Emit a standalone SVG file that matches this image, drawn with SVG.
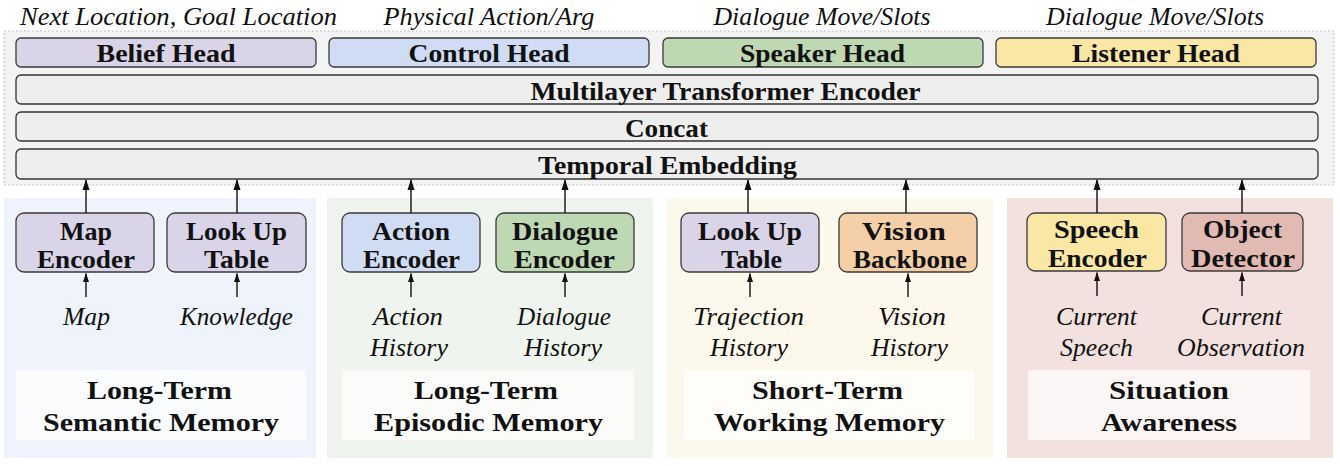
<svg xmlns="http://www.w3.org/2000/svg" width="1340" height="466" viewBox="0 0 1340 466">
  <style>
    .bold { font-family: "Liberation Serif", "Times New Roman", serif; font-weight: bold; font-size: 26px; fill: #111; text-anchor: middle; }
    .ital { font-family: "Liberation Serif", "Times New Roman", serif; font-style: italic; font-size: 25px; fill: #111; text-anchor: middle; }
    .node { stroke: #3a3a3a; stroke-width: 1.3; }
    .bar { fill: #eeeeee; stroke: #333; stroke-width: 1.3; }
    .purple { fill: #d9d4e8; }
    .blue { fill: #cfdcf3; }
    .green { fill: #bdd8b2; }
    .yellow { fill: #fae6a5; }
    .orange { fill: #f4cfa7; }
    .rose { fill: #e0bab3; }
    .titlebox { fill: #ffffff; fill-opacity: 0.72; }
    .conn { stroke: #111; stroke-width: 1.4; fill: none; }
  </style>
  <defs>
    <marker id="arrowBig" markerUnits="userSpaceOnUse" markerWidth="8" markerHeight="12" refX="4" refY="1" orient="0" viewBox="0 0 8 12">
      <path d="M4,0 L7.5,11 L0.5,11 Z" fill="#111"/>
    </marker>
    <marker id="arrowSmall" markerUnits="userSpaceOnUse" markerWidth="7" markerHeight="10" refX="3.5" refY="0.5" orient="0" viewBox="0 0 7 10">
      <path d="M3.5,0 L6.5,9 L0.5,9 Z" fill="#111"/>
    </marker>
  </defs>

  <rect width="1340" height="466" fill="#ffffff"/>

  <!-- memory panels -->
  <g id="panel-semantic">
    <rect x="4" y="198" width="312" height="260" fill="#eff3fb"/>
    <rect class="titlebox" x="16" y="370" width="290" height="70"/>
    <text class="bold" x="159.5" y="399" textLength="145" lengthAdjust="spacingAndGlyphs">Long-Term</text>
    <text class="bold" x="161" y="431" textLength="236" lengthAdjust="spacingAndGlyphs">Semantic Memory</text>
  </g>
  <g id="panel-episodic">
    <rect x="327" y="198" width="326" height="260" fill="#eff5ee"/>
    <rect class="titlebox" x="342" y="370" width="292" height="70"/>
    <text class="bold" x="486" y="399" textLength="144" lengthAdjust="spacingAndGlyphs">Long-Term</text>
    <text class="bold" x="488.5" y="431" textLength="229" lengthAdjust="spacingAndGlyphs">Episodic Memory</text>
  </g>
  <g id="panel-working">
    <rect x="667" y="198" width="326" height="260" fill="#fcf8ec"/>
    <rect class="titlebox" x="684" y="370" width="290" height="70"/>
    <text class="bold" x="827.5" y="399" textLength="151" lengthAdjust="spacingAndGlyphs">Short-Term</text>
    <text class="bold" x="829.5" y="431" textLength="231" lengthAdjust="spacingAndGlyphs">Working Memory</text>
  </g>
  <g id="panel-situation">
    <rect x="1007" y="198" width="326" height="260" fill="#f2e1de"/>
    <rect class="titlebox" x="1028" y="370" width="282" height="70"/>
    <text class="bold" x="1169" y="399" textLength="120" lengthAdjust="spacingAndGlyphs">Situation</text>
    <text class="bold" x="1169" y="431" textLength="136" lengthAdjust="spacingAndGlyphs">Awareness</text>
  </g>

  <!-- model stack -->
  <g id="model-stack">
    <rect x="4" y="31" width="1330" height="154" fill="#f3f3f3" stroke="#b5b5b5" stroke-width="1.2" stroke-dasharray="1.5 2.5"/>
  </g>

  <g id="belief-head">
    <text class="ital" x="178.5" y="25" textLength="317" lengthAdjust="spacingAndGlyphs">Next Location, Goal Location</text>
    <rect class="node purple" x="16" y="38" width="300" height="29" rx="5"/>
    <text class="bold" x="166" y="62" textLength="139" lengthAdjust="spacingAndGlyphs">Belief Head</text>
  </g>
  <g id="control-head">
    <text class="ital" x="489" y="25" textLength="211" lengthAdjust="spacingAndGlyphs">Physical Action/Arg</text>
    <rect class="node blue" x="329" y="38" width="320" height="29" rx="5"/>
    <text class="bold" x="489" y="62" textLength="161" lengthAdjust="spacingAndGlyphs">Control Head</text>
  </g>
  <g id="speaker-head">
    <text class="ital" x="822" y="25" textLength="217" lengthAdjust="spacingAndGlyphs">Dialogue Move/Slots</text>
    <rect class="node green" x="663" y="38" width="320" height="29" rx="5"/>
    <text class="bold" x="822.5" y="62" textLength="165" lengthAdjust="spacingAndGlyphs">Speaker Head</text>
  </g>
  <g id="listener-head">
    <text class="ital" x="1155" y="25" textLength="218" lengthAdjust="spacingAndGlyphs">Dialogue Move/Slots</text>
    <rect class="node yellow" x="996" y="38" width="320" height="29" rx="5"/>
    <text class="bold" x="1156" y="62" textLength="168" lengthAdjust="spacingAndGlyphs">Listener Head</text>
  </g>

  <g id="transformer-encoder">
    <rect class="bar" x="16" y="75" width="1302" height="29" rx="5"/>
    <text class="bold" x="725.5" y="99.5" textLength="390" lengthAdjust="spacingAndGlyphs">Multilayer Transformer Encoder</text>
  </g>
  <g id="concat">
    <rect class="bar" x="16" y="112" width="1302" height="29" rx="5"/>
    <text class="bold" x="666.5" y="137" textLength="83" lengthAdjust="spacingAndGlyphs">Concat</text>
  </g>
  <g id="temporal-embedding">
    <rect class="bar" x="16" y="149" width="1302" height="30" rx="5"/>
    <text class="bold" x="667.5" y="174" textLength="259" lengthAdjust="spacingAndGlyphs">Temporal Embedding</text>
  </g>

  <!-- encoders -->
  <g id="map-encoder">
    <rect class="node purple" x="16" y="213" width="138" height="59" rx="8"/>
    <text class="bold" x="86" y="240" textLength="52" lengthAdjust="spacingAndGlyphs">Map</text>
    <text class="bold" x="86" y="268" textLength="98" lengthAdjust="spacingAndGlyphs">Encoder</text>
  </g>
  <g id="lookup-table-knowledge">
    <rect class="node purple" x="167" y="213" width="139" height="59" rx="8"/>
    <text class="bold" x="236.5" y="240" textLength="101" lengthAdjust="spacingAndGlyphs">Look Up</text>
    <text class="bold" x="236.5" y="268" textLength="65" lengthAdjust="spacingAndGlyphs">Table</text>
  </g>
  <g id="action-encoder">
    <rect class="node blue" x="342" y="213" width="138" height="59" rx="8"/>
    <text class="bold" x="411" y="240" textLength="78" lengthAdjust="spacingAndGlyphs">Action</text>
    <text class="bold" x="411.5" y="268" textLength="97" lengthAdjust="spacingAndGlyphs">Encoder</text>
  </g>
  <g id="dialogue-encoder">
    <rect class="node green" x="496" y="213" width="138" height="59" rx="8"/>
    <text class="bold" x="565" y="240" textLength="106" lengthAdjust="spacingAndGlyphs">Dialogue</text>
    <text class="bold" x="564.5" y="268" textLength="101" lengthAdjust="spacingAndGlyphs">Encoder</text>
  </g>
  <g id="lookup-table-trajection">
    <rect class="node purple" x="681" y="213" width="138" height="59" rx="8"/>
    <text class="bold" x="750" y="240" textLength="104" lengthAdjust="spacingAndGlyphs">Look Up</text>
    <text class="bold" x="751.5" y="268" textLength="61" lengthAdjust="spacingAndGlyphs">Table</text>
  </g>
  <g id="vision-backbone">
    <rect class="node orange" x="839" y="213" width="138" height="59" rx="8"/>
    <text class="bold" x="904" y="240" textLength="84" lengthAdjust="spacingAndGlyphs">Vision</text>
    <text class="bold" x="910" y="268" textLength="114" lengthAdjust="spacingAndGlyphs">Backbone</text>
  </g>
  <g id="speech-encoder">
    <rect class="node yellow" x="1027" y="213" width="139" height="58" rx="8"/>
    <text class="bold" x="1096.5" y="238" textLength="85" lengthAdjust="spacingAndGlyphs">Speech</text>
    <text class="bold" x="1097.5" y="267" textLength="99" lengthAdjust="spacingAndGlyphs">Encoder</text>
  </g>
  <g id="object-detector">
    <rect class="node rose" x="1182" y="213" width="121" height="58" rx="8"/>
    <text class="bold" x="1242.5" y="238" textLength="79" lengthAdjust="spacingAndGlyphs">Object</text>
    <text class="bold" x="1243" y="267" textLength="104" lengthAdjust="spacingAndGlyphs">Detector</text>
  </g>

  <!-- inputs -->
  <g id="inputs">
    <text class="ital" x="86.5" y="325" textLength="47" lengthAdjust="spacingAndGlyphs">Map</text>
    <text class="ital" x="236.5" y="325" textLength="113" lengthAdjust="spacingAndGlyphs">Knowledge</text>
    <text class="ital" x="408" y="325" textLength="70" lengthAdjust="spacingAndGlyphs">Action</text>
    <text class="ital" x="409" y="356" textLength="78" lengthAdjust="spacingAndGlyphs">History</text>
    <text class="ital" x="564" y="325" textLength="94" lengthAdjust="spacingAndGlyphs">Dialogue</text>
    <text class="ital" x="563" y="356" textLength="78" lengthAdjust="spacingAndGlyphs">History</text>
    <text class="ital" x="748.5" y="325" textLength="111" lengthAdjust="spacingAndGlyphs">Trajection</text>
    <text class="ital" x="749" y="356" textLength="78" lengthAdjust="spacingAndGlyphs">History</text>
    <text class="ital" x="912" y="325" textLength="68" lengthAdjust="spacingAndGlyphs">Vision</text>
    <text class="ital" x="909.5" y="356" textLength="77" lengthAdjust="spacingAndGlyphs">History</text>
    <text class="ital" x="1096.5" y="325" textLength="81" lengthAdjust="spacingAndGlyphs">Current</text>
    <text class="ital" x="1096.5" y="356" textLength="73" lengthAdjust="spacingAndGlyphs">Speech</text>
    <text class="ital" x="1241.5" y="325" textLength="81" lengthAdjust="spacingAndGlyphs">Current</text>
    <text class="ital" x="1241" y="356" textLength="128" lengthAdjust="spacingAndGlyphs">Observation</text>
  </g>

  <!-- connectors -->
  <g id="connectors">
    <line class="conn" x1="86" y1="213" x2="86" y2="180" marker-end="url(#arrowBig)"/>
    <line class="conn" x1="237" y1="213" x2="237" y2="180" marker-end="url(#arrowBig)"/>
    <line class="conn" x1="411" y1="213" x2="411" y2="180" marker-end="url(#arrowBig)"/>
    <line class="conn" x1="565" y1="213" x2="565" y2="180" marker-end="url(#arrowBig)"/>
    <line class="conn" x1="748" y1="213" x2="748" y2="180" marker-end="url(#arrowBig)"/>
    <line class="conn" x1="906" y1="213" x2="906" y2="180" marker-end="url(#arrowBig)"/>
    <line class="conn" x1="1097" y1="213" x2="1097" y2="180" marker-end="url(#arrowBig)"/>
    <line class="conn" x1="1242" y1="213" x2="1242" y2="180" marker-end="url(#arrowBig)"/>

    <line class="conn" x1="86" y1="297" x2="86" y2="273.5" marker-end="url(#arrowSmall)"/>
    <line class="conn" x1="237" y1="297" x2="237" y2="273.5" marker-end="url(#arrowSmall)"/>
    <line class="conn" x1="411" y1="297" x2="411" y2="273.5" marker-end="url(#arrowSmall)"/>
    <line class="conn" x1="565" y1="297" x2="565" y2="273.5" marker-end="url(#arrowSmall)"/>
    <line class="conn" x1="750" y1="297" x2="750" y2="273.5" marker-end="url(#arrowSmall)"/>
    <line class="conn" x1="908" y1="297" x2="908" y2="273.5" marker-end="url(#arrowSmall)"/>
    <line class="conn" x1="1097" y1="296" x2="1097" y2="272.5" marker-end="url(#arrowSmall)"/>
    <line class="conn" x1="1242" y1="296" x2="1242" y2="272.5" marker-end="url(#arrowSmall)"/>
  </g>
</svg>
